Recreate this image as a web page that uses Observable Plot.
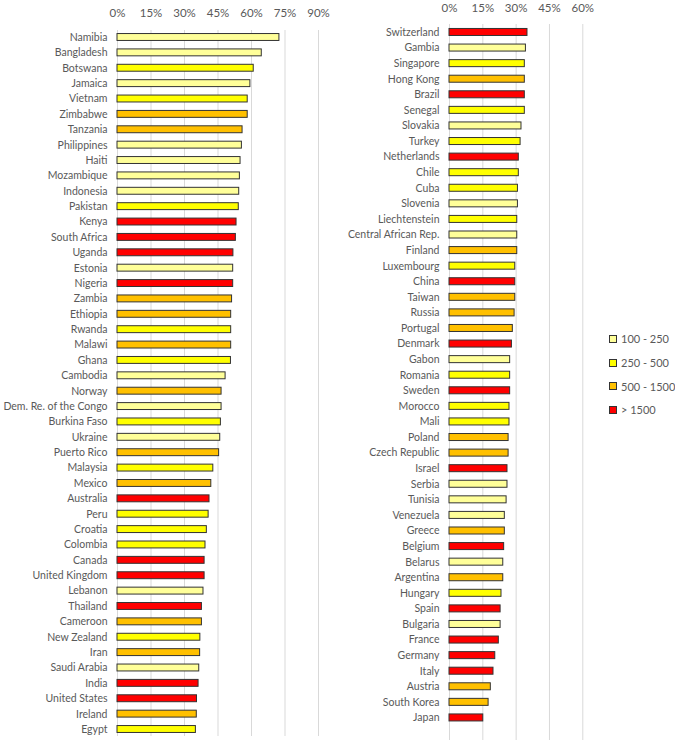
<!DOCTYPE html>
<html><head><meta charset="utf-8">
<script src="https://cdn.jsdelivr.net/npm/d3@7"></script>
<script src="https://cdn.jsdelivr.net/npm/@observablehq/plot@0.6"></script>
<style>
body{margin:0;background:#fff;font-family:Lato,sans-serif;}
#wrap{position:relative;width:675px;height:743px;overflow:hidden}
#left{position:absolute;left:0;top:0}
#right{position:absolute;left:330px;top:0}
#legend{position:absolute;left:609px;top:327px;font:11px Lato,sans-serif;color:#595959;white-space:nowrap}
.item{display:flex;align-items:center;height:23.7px}
.sw{width:6px;height:6px;border:1px solid #333;margin-right:4px;flex:none}
</style></head>
<body><div id="wrap"><div id="left"></div><div id="right"></div><div id="legend"></div></div>
<script>
const classes = ["100 - 250", "250 - 500", "500 - 1500", "> 1500"];
const classColors = ["#FFFF99", "#FFFF00", "#FFC000", "#FF0000"];
const L = "100 - 250", Y = "250 - 500", O = "500 - 1500", R = "> 1500";

const leftCountries = ["Namibia","Bangladesh","Botswana","Jamaica","Vietnam","Zimbabwe","Tanzania","Philippines","Haiti","Mozambique","Indonesia","Pakistan","Kenya","South Africa","Uganda","Estonia","Nigeria","Zambia","Ethiopia","Rwanda","Malawi","Ghana","Cambodia","Norway","Dem. Re. of the Congo","Burkina Faso","Ukraine","Puerto Rico","Malaysia","Mexico","Australia","Peru","Croatia","Colombia","Canada","United Kingdom","Lebanon","Thailand","Cameroon","New Zealand","Iran","Saudi Arabia","India","United States","Ireland","Egypt"];
const leftValues = [72.5,64.6,61.0,59.5,58.3,58.3,56.0,55.7,55.1,54.8,54.5,54.3,53.3,53.0,51.9,51.8,51.8,51.3,50.9,50.9,50.9,50.8,48.4,46.6,46.6,46.3,46.0,45.5,42.9,42.0,41.2,40.8,40.0,39.4,39.0,39.0,38.5,37.8,37.8,37.1,37.0,36.6,36.3,35.6,35.5,35.1];
const leftClasses = [L,L,Y,L,Y,O,O,L,L,L,L,Y,R,R,R,L,R,O,O,Y,O,Y,L,O,L,Y,L,O,Y,O,R,Y,Y,Y,R,R,L,R,O,Y,O,L,R,R,O,Y];

const rightCountries = ["Switzerland","Gambia","Singapore","Hong Kong","Brazil","Senegal","Slovakia","Turkey","Netherlands","Chile","Cuba","Slovenia","Liechtenstein","Central African Rep.","Finland","Luxembourg","China","Taiwan","Russia","Portugal","Denmark","Gabon","Romania","Sweden","Morocco","Mali","Poland","Czech Republic","Israel","Serbia","Tunisia","Venezuela","Greece","Belgium","Belarus","Argentina","Hungary","Spain","Bulgaria","France","Germany","Italy","Austria","South Korea","Japan"];
const rightValues = [35.1,34.4,33.9,33.9,33.9,33.9,32.4,32.0,31.2,31.2,30.8,30.8,30.5,30.5,30.5,29.6,29.6,29.6,29.3,28.5,28.1,27.3,27.3,27.3,27.0,27.0,26.6,26.6,26.1,26.1,25.7,24.9,24.9,24.6,24.2,24.2,23.4,23.0,23.0,22.2,20.6,19.8,18.6,17.6,15.2];
const rightClasses = [R,L,Y,O,R,Y,L,Y,R,Y,Y,L,Y,L,O,Y,R,O,O,O,R,L,Y,R,Y,Y,O,O,R,L,L,L,O,R,L,O,Y,R,L,R,R,R,O,O,R];

const leftTicks = [0,15,30,45,60,75,90];
const rightTicks = [0,15,30,45,60];

function panel(countries, values, cls, opts) {
  const data = countries.map((c, i) => ({country: c, value: values[i], cls: cls[i]}));
  return Plot.plot({
    width: opts.width, height: 743,
    marginLeft: opts.ml, marginRight: opts.mr, marginTop: opts.mt, marginBottom: opts.mb,
    style: {fontFamily: "Lato, sans-serif", fontSize: "10.5px", color: "#595959", background: "white"},
    x: {domain: [0, opts.max], ticks: opts.ticks, tickFormat: d => d + "%", label: null},
    y: {domain: countries, paddingInner: 0.55, paddingOuter: opts.po, align: opts.align, round: false, label: null},
    color: {domain: classes, range: classColors},
    marks: [
      Plot.gridX(opts.ticks, {stroke: "#d9d9d9", strokeOpacity: 1, strokeWidth: 1}),
      Plot.barX(data, {x: "value", y: "country", fill: "cls", stroke: "#333", strokeWidth: 1}),
      Plot.axisX(opts.ticks, {anchor: "top", tickSize: 0, tickPadding: opts.tp, tickFormat: d => d + "%", label: null, fill: "#595959", fontSize: 11.5}),
      Plot.axisY({tickSize: 0, tickPadding: 10, label: null, fill: "#595959"})
    ]
  });
}

document.getElementById("left").append(panel(leftCountries, leftValues, leftClasses,
  {width: 330, ml: 117, mr: 12, mt: 30, mb: 7, max: 90, ticks: leftTicks, po: 0.23, align: 0.5, tp: 14}));
document.getElementById("right").append(panel(rightCountries, rightValues, rightClasses,
  {width: 345, ml: 119, mr: 92.7, mt: 24, mb: 3, max: 60, ticks: rightTicks, po: 0.755, align: 0.19, tp: 13}));

const leg = document.getElementById("legend");
classes.forEach((c, i) => {
  const it = document.createElement("div");
  it.className = "item";
  const sw = document.createElement("span");
  sw.className = "sw";
  sw.style.background = classColors[i];
  const t = document.createElement("span");
  t.textContent = c;
  it.append(sw, t);
  leg.append(it);
});
</script>
</body></html>
